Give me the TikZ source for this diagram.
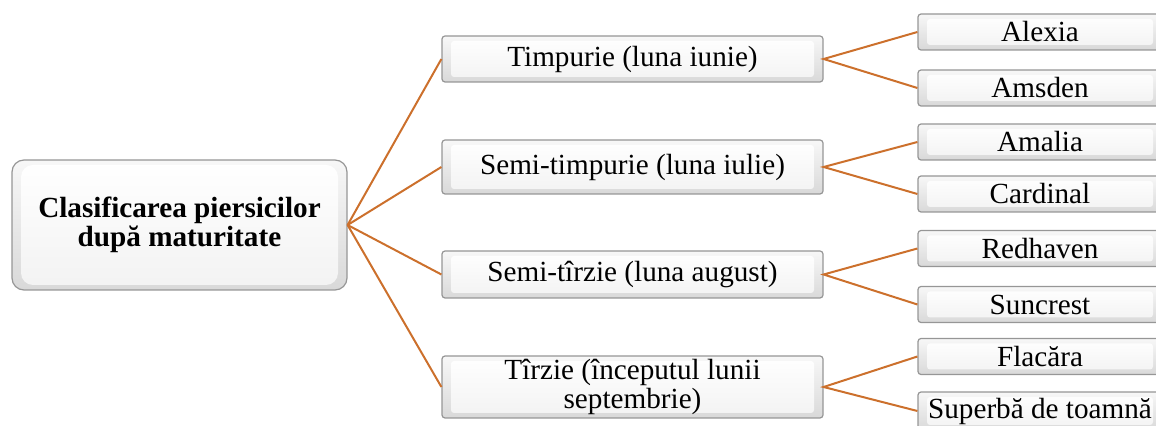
\documentclass[tikz,border=0pt]{standalone}
\usepackage{fontspec}
\setmainfont{Liberation Serif}
\definecolor{lineor}{RGB}{204,112,44}
\definecolor{boxedge}{RGB}{150,150,150}
\tikzset{
  bev/.style={draw=boxedge, line width=0.6pt, rounded corners=1.5pt, inner sep=0pt,
    top color=gray!6, bottom color=gray!30, align=center,
    font=\fontsize{14.6}{12.8}\selectfont,
    path picture={
      \shade[top color=white, bottom color=gray!10]
        ([shift={(4.5pt,-2.5pt)}]path picture bounding box.north west) rectangle
        ([shift={(-4.5pt,2.5pt)}]path picture bounding box.south east);
    }},
  rootbox/.style={bev, rounded corners=6pt, font=\fontsize{14.6}{12.8}\selectfont\bfseries},
  midbox/.style={bev, minimum width=190.5pt},
  leafbox/.style={bev, minimum width=122pt, minimum height=18pt},
  conn/.style={draw=lineor, line width=1pt}
}
\begin{document}
\begin{tikzpicture}[x=0.5pt,y=-0.5pt]
\useasboundingbox (0,0) rectangle (1156,426);
\clip (0,0) rectangle (1156,426);
% root
\node[rootbox, minimum width=167.5pt, minimum height=65pt] (root) at (179.5,225) {Clasificarea piersicilor\\după maturitate};
% middle level
\node[midbox, minimum height=23pt] (m1) at (632.5,59) {Timpurie (luna iunie)};
\node[midbox, minimum height=27pt] (m2) at (632.5,167) {Semi-timpurie (luna iulie)};
\node[midbox, minimum height=23.5pt] (m3) at (632.5,274.5) {Semi-tîrzie (luna august)};
\node[midbox, minimum height=31pt] (m4) at (632.5,387) {Tîrzie (începutul lunii\\septembrie)};
% leaves
\node[leafbox] (l1) at (1040,32) {Alexia};
\node[leafbox] (l2) at (1040,88) {Amsden};
\node[leafbox] (l3) at (1040,142) {Amalia};
\node[leafbox] (l4) at (1040,194) {Cardinal};
\node[leafbox] (l5) at (1040,248.5) {Redhaven};
\node[leafbox] (l6) at (1040,304.5) {Suncrest};
\node[leafbox] (l7) at (1040,356.5) {Flacăra};
\node[leafbox, minimum height=19pt] (l8) at (1040,411) {Superbă de toamnă};
% connectors
\foreach \m in {m1,m2,m3,m4} \draw[conn] (root.east) -- (\m.west);
\draw[conn] (l1.west) -- (m1.east) -- (l2.west);
\draw[conn] (l3.west) -- (m2.east) -- (l4.west);
\draw[conn] (l5.west) -- (m3.east) -- (l6.west);
\draw[conn] (l7.west) -- (m4.east) -- (l8.west);
\end{tikzpicture}
\end{document}
